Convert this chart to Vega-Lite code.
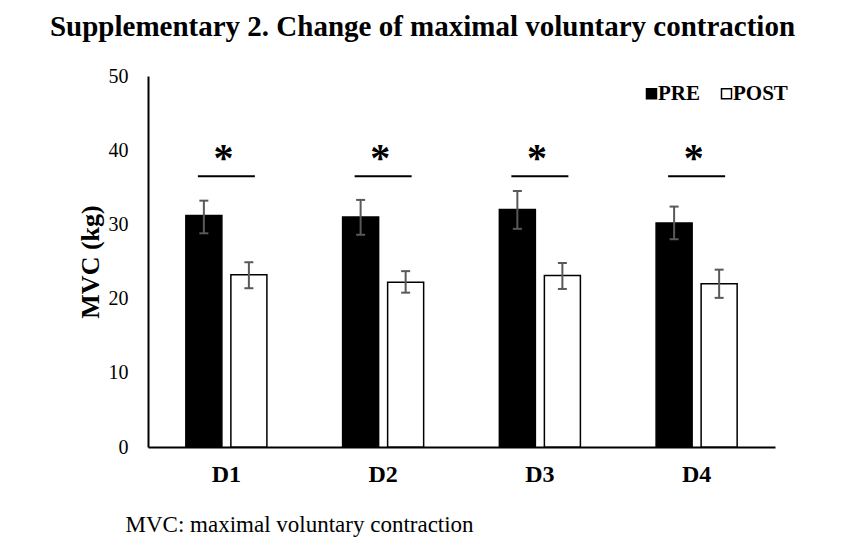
{
  "$schema": "https://vega.github.io/schema/vega-lite/v6.json",
  "autosize": {"type": "none"},
  "width": 627,
  "height": 371,
  "padding": {"left": 148, "top": 76, "right": 70, "bottom": 105},
  "background": "white",
  "title": {
    "text": "Supplementary 2. Change of maximal voluntary contraction",
    "font": "Liberation Serif",
    "fontSize": 29,
    "fontWeight": "bold",
    "color": "black",
    "anchor": "middle",
    "dx": -39,
    "baseline": "alphabetic",
    "offset": 1
  },
  "datasets": {
    "mvc": [
      {"day": "D1", "group": "PRE", "mean": 31.2, "lo": 28.8, "hi": 33.2},
      {"day": "D1", "group": "POST", "mean": 23.2, "lo": 21.4, "hi": 24.9},
      {"day": "D2", "group": "PRE", "mean": 31.0, "lo": 28.6, "hi": 33.3},
      {"day": "D2", "group": "POST", "mean": 22.2, "lo": 20.8, "hi": 23.7},
      {"day": "D3", "group": "PRE", "mean": 32.0, "lo": 29.4, "hi": 34.5},
      {"day": "D3", "group": "POST", "mean": 23.1, "lo": 21.3, "hi": 24.8},
      {"day": "D4", "group": "PRE", "mean": 30.2, "lo": 28.0, "hi": 32.4},
      {"day": "D4", "group": "POST", "mean": 22.0, "lo": 20.1, "hi": 23.9}
    ],
    "sig": [
      {"day": "D1", "star": "*", "star_y": 37.2, "line_y": 36.5},
      {"day": "D2", "star": "*", "star_y": 37.2, "line_y": 36.5},
      {"day": "D3", "star": "*", "star_y": 37.2, "line_y": 36.5},
      {"day": "D4", "star": "*", "star_y": 37.2, "line_y": 36.5}
    ]
  },
  "data": {"name": "mvc"},
  "encoding": {
    "x": {
      "field": "day",
      "type": "nominal",
      "scale": {"paddingInner": 0.483, "paddingOuter": 0.2415},
      "axis": {
        "labelAngle": 0,
        "labelFont": "Liberation Serif",
        "labelFontSize": 24,
        "labelFontWeight": "bold",
        "labelColor": "black",
        "labelPadding": 15,
        "ticks": false,
        "domainColor": "black",
        "domainWidth": 2,
        "title": "MVC: maximal voluntary contraction",
        "titleFont": "Liberation Serif",
        "titleFontSize": 23,
        "titleFontWeight": "normal",
        "titleColor": "black",
        "titleAnchor": "start",
        "titleAlign": "left",
        "titleBaseline": "alphabetic",
        "titleX": -23,
        "titleY": 84
      }
    }
  },
  "layer": [
    {
      "mark": {"type": "bar", "stroke": "black", "strokeWidth": 1.5},
      "encoding": {
        "xOffset": {
          "field": "group",
          "sort": ["PRE", "POST"],
          "scale": {"paddingInner": 0.2, "paddingOuter": 0}
        },
        "y": {
          "field": "mean",
          "type": "quantitative",
          "scale": {"domain": [0, 50]},
          "axis": {
            "values": [0, 10, 20, 30, 40, 50],
            "grid": false,
            "ticks": false,
            "domainColor": "black",
            "domainWidth": 2,
            "labelFont": "Liberation Serif",
            "labelFontSize": 20,
            "labelColor": "black",
            "labelPadding": 20,
            "title": "MVC (kg)",
            "titleFont": "Liberation Serif",
            "titleFontSize": 26,
            "titleFontWeight": "bold",
            "titleColor": "black",
            "titlePadding": 5
          }
        },
        "fill": {
          "field": "group",
          "type": "nominal",
          "scale": {"domain": ["PRE", "POST"], "range": ["black", "white"]},
          "legend": {
            "title": null,
            "orient": "none",
            "direction": "horizontal",
            "legendX": 493,
            "legendY": 7,
            "symbolType": "square",
            "symbolSize": 100,
            "symbolStrokeColor": "black",
            "symbolStrokeWidth": 1.5,
            "labelFont": "Liberation Serif",
            "labelFontSize": 21,
            "labelFontWeight": "bold",
            "labelColor": "black",
            "labelOffset": -4,
            "columnPadding": 16
          }
        }
      }
    },
    {
      "mark": {"type": "rule", "color": "#595959", "strokeWidth": 2},
      "encoding": {
        "xOffset": {"field": "group", "sort": ["PRE", "POST"]},
        "y": {"field": "lo", "type": "quantitative"},
        "y2": {"field": "hi"}
      }
    },
    {
      "mark": {"type": "tick", "orient": "horizontal", "color": "#595959", "size": 9, "thickness": 2},
      "encoding": {
        "xOffset": {"field": "group", "sort": ["PRE", "POST"]},
        "y": {"field": "lo", "type": "quantitative"}
      }
    },
    {
      "mark": {"type": "tick", "orient": "horizontal", "color": "#595959", "size": 9, "thickness": 2},
      "encoding": {
        "xOffset": {"field": "group", "sort": ["PRE", "POST"]},
        "y": {"field": "hi", "type": "quantitative"}
      }
    },
    {
      "data": {"name": "sig"},
      "mark": {"type": "tick", "orient": "horizontal", "color": "black", "size": 57, "thickness": 2},
      "encoding": {
        "y": {"field": "line_y", "type": "quantitative"}
      }
    },
    {
      "data": {"name": "sig"},
      "mark": {"type": "text", "font": "Liberation Serif", "fontSize": 40, "fontWeight": "bold", "color": "black", "baseline": "alphabetic", "dx": -3},
      "encoding": {
        "y": {"field": "star_y", "type": "quantitative"},
        "text": {"field": "star"}
      }
    }
  ],
  "config": {"view": {"stroke": null}, "tick": {"opacity": 1}}
}
